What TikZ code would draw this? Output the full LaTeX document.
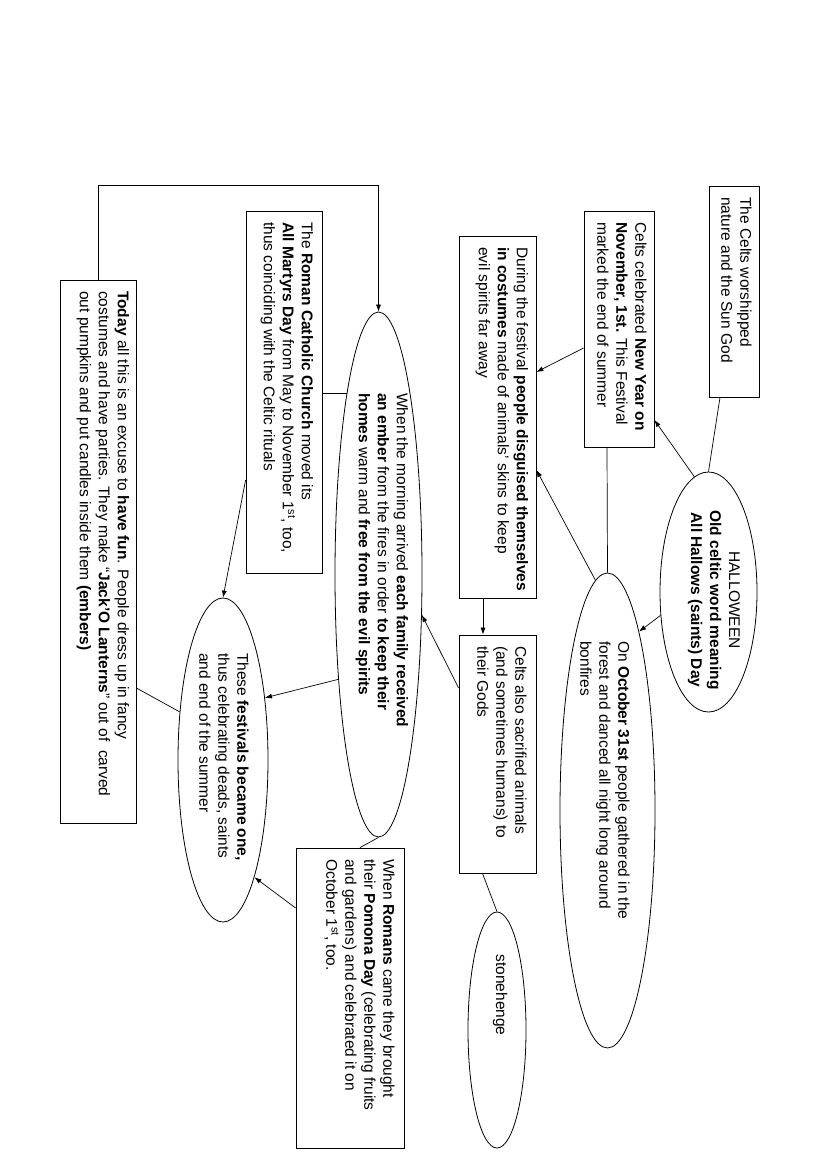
\documentclass[tikz,border=0pt]{standalone}
\usepackage{fontspec}
\setmainfont{Liberation Sans}
\usetikzlibrary{arrows.meta,shapes.geometric}
\begin{document}
\begin{tikzpicture}[x=1pt,y=-1pt,
  box/.style={draw, line width=0.8pt, inner sep=0pt, rectangle},
  oval/.style={draw, line width=0.8pt, inner sep=0pt, ellipse},
  txt/.style={rotate=-90, inner sep=0pt, align=left, anchor=west, font=\fontsize{15.5}{19}\selectfont},
  ctxt/.style={txt, align=center, anchor=center},
  link/.style={line width=0.7pt},
  arr/.style={link, -{Latex[length=7pt,width=5pt]}},
]
\fill[white] (0,0) rectangle (826,1169);
\useasboundingbox (0,0) rectangle (826,1169);

% boxes
\node[box, minimum width=50pt, minimum height=211pt] (A) at (734,291.5) {};
\node[txt] (At) at (736.5,197) {The Celts worshipped\\nature and the Sun God};

\node[box, minimum width=70pt, minimum height=236pt] (B) at (619,329.5) {};
\node[txt] (Bt) at (622,222) {Celts celebrated \textbf{New Year on}\\\textbf{November, 1st.} This Festival\\marked the end of summer};

\node[box, minimum width=77pt, minimum height=362pt] (C) at (497.5,417) {};
\node[txt] (Ct) at (502,247) {During the festival \textbf{people disguised themselves}\\\textbf{in costumes} made of animals’ skins to keep\\evil spirits far away};

\node[box, minimum width=77pt, minimum height=238pt] (D) at (497.5,754) {};
\node[txt] (Dt) at (502,646) {Celts also sacrified animals\\(and sometimes humans) to\\their Gods};

\node[box, minimum width=76pt, minimum height=362pt] (R) at (284,392) {};
\node[txt] (Rt) at (287,222) {The \textbf{Roman Catholic Church} moved its\\\textbf{All Martyrs Day} from May to November 1\textsuperscript{st}, too,\\thus coinciding with the Celtic rituals};

\node[box, minimum width=76pt, minimum height=543pt] (T) at (98,551.5) {};
\node[txt] (Tt) at (103,291) {\textbf{Today} all this is an excuse to \textbf{have fun}. People dress up in fancy\\costumes and have parties. They make “\textbf{Jack’O Lanterns}” out of~ carved\\out pumpkins and put candles inside them \textbf{(embers)}};

\node[box, minimum width=108pt, minimum height=300pt] (P) at (350,998) {};
\node[txt] (Pt) at (359.5,859) {When \textbf{Romans} came they brought\\their \textbf{Pomona Day} (celebrating fruits\\and gardens) and celebrated it on\\October 1\textsuperscript{st}, too.};

% ellipses
\node[oval, minimum width=97pt, minimum height=240pt] (H) at (708.5,592) {};
\node[ctxt] (Ht) at (714,600) {HALLOWEEN\\\textbf{Old celtic word meaning}\\\textbf{All Hallows (saints) Day}};

\node[oval, minimum width=95pt, minimum height=475pt] (O) at (607.5,810.5) {};
\node[txt] (Ot) at (605,641) {On \textbf{October 31st} people gathered in the\\forest and danced all night long around\\bonfires};

\node[oval, minimum width=58pt, minimum height=236pt] (S) at (497,1030) {};
\node[ctxt] (St) at (500,995) {stonehenge};

\node[oval, minimum width=87pt, minimum height=525pt] (M) at (378.5,574.5) {};
\node[txt] (Mt) at (382,393) {When the morning arrived \textbf{each family received}\\\textbf{an ember} from the fires in order \textbf{to keep their}\\\textbf{homes} warm and \textbf{free from the evil spirits}};

\node[oval, minimum width=90pt, minimum height=324pt] (F) at (223,760) {};
\node[txt] (Ft) at (224,653) {These \textbf{festivals became one,}\\thus celebrating deads, saints\\and end of the summer};

% connectors
\draw[link] ([xshift=-14pt]A.south) -- (H.north);
\draw[arr] (H.97) -- ([yshift=-90.5pt]B.east);
\draw[arr] (H.206) -- (O.80);
\draw[link] ([xshift=-12pt]B.south) -- (O.north);
\draw[arr] ([yshift=-18.5pt]B.west) -- ([yshift=45pt]C.east);
\draw[arr] (O.93) -- ([yshift=-53pt]C.east);
\draw[arr] ([xshift=-14.5pt]C.south) -- ([xshift=-14.5pt]D.north);
\draw[link] ([xshift=-15pt]D.south) -- (S.north);
\draw[arr] ([yshift=66pt]D.west) -- (M.-43);
\draw[arr] (T.north) |- ([yshift=126pt]M.north) -- (M.north);
\draw[link] (R.east |- M.100) -- (M.100);
\draw[arr] ([yshift=-88pt]R.west) -- (F.north);
\draw[arr] (M.249) -- (F.56);
\draw[link] (M.south) -- ([xshift=10pt]P.north);
\draw[arr] ([yshift=90pt]P.west) -- (F.-75);
\draw[link] ([yshift=-136.5pt]T.east) -- (F.132);
\end{tikzpicture}
\end{document}
